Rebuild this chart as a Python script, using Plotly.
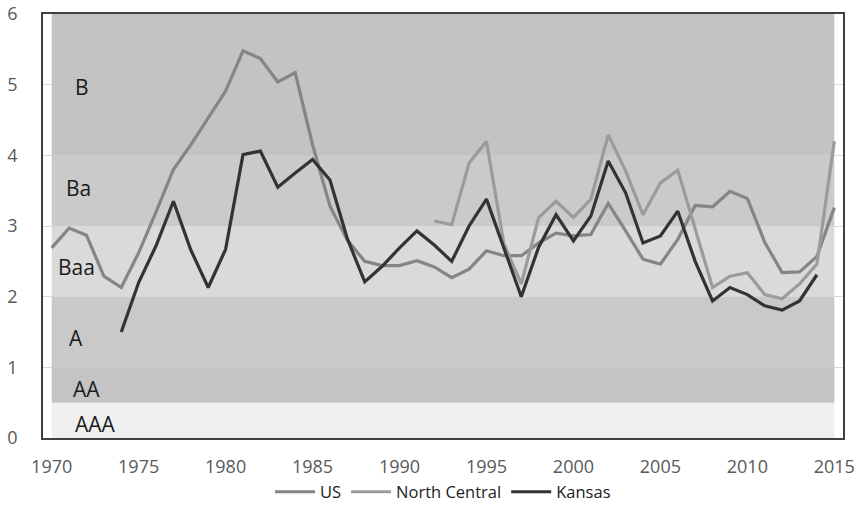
import plotly.graph_objects as go

years = list(range(1970, 2016))

us = [2.69, 2.97, 2.87, 2.29, 2.13, 2.62, 3.20, 3.80, 4.15, 4.53,
      4.91, 5.48, 5.37, 5.04, 5.17, 4.15, 3.28, 2.80, 2.50, 2.44,
      2.44, 2.51, 2.42, 2.27, 2.39, 2.65, 2.58, 2.58, 2.76, 2.90,
      2.86, 2.88, 3.32, 2.93, 2.53, 2.46, 2.81, 3.29, 3.27, 3.49,
      3.39, 2.77, 2.34, 2.35, 2.57, 3.26]

north_central = [None] * 22 + [
      3.07, 3.02, 3.89, 4.20, 2.75, 2.18, 3.12, 3.35,
      3.12, 3.38, 4.29, 3.78, 3.16, 3.61, 3.79, 2.95, 2.13, 2.29,
      2.34, 2.03, 1.97, 2.18, 2.46, 4.20]

kansas = [None] * 4 + [
      1.50, 2.20, 2.72, 3.35, 2.66, 2.13,
      2.67, 4.01, 4.06, 3.55, 3.75, 3.94, 3.65, 2.82, 2.21, 2.43,
      2.69, 2.93, 2.73, 2.50, 3.00, 3.38, 2.69, 2.00, 2.70, 3.16,
      2.79, 3.14, 3.92, 3.47, 2.76, 2.86, 3.21, 2.50, 1.94, 2.13,
      2.03, 1.87, 1.81, 1.94, 2.31, None]

band_edges = [0, 0.5, 1, 2, 3, 4, 6]
band_names = ["AAA", "AA", "A", "Baa", "Ba", "B"]
band_colors = ["#efefef", "#c4c4c4", "#c9c9c9", "#dadada", "#cacaca", "#c3c3c3"]
label_x = [1972.5, 1972.0, 1971.4, 1971.45, 1971.55, 1971.75]
label_y = [0.2, 0.69, 1.42, 2.42, 3.54, 4.96]

fig = go.Figure()

fig.add_trace(go.Scatter(x=years, y=us, name="US", mode="lines",
                         line=dict(color="#858585", width=3.2)))
fig.add_trace(go.Scatter(x=years, y=north_central, name="North Central", mode="lines",
                         line=dict(color="#9b9b9b", width=3.2)))
fig.add_trace(go.Scatter(x=years, y=kansas, name="Kansas", mode="lines",
                         line=dict(color="#333333", width=3.2)))

for i in range(len(band_names)):
    fig.add_shape(type="rect", xref="x", yref="y",
                  x0=years[0], x1=years[-1],
                  y0=band_edges[i], y1=band_edges[i + 1],
                  fillcolor=band_colors[i], line=dict(width=0),
                  layer="between")
    fig.add_annotation(x=label_x[i], y=label_y[i], text=band_names[i],
                       showarrow=False, xref="x", yref="y",
                       font=dict(family="Open Sans", size=21, color="#1a1a1a"))

fig.update_layout(
    width=861, height=513,
    margin=dict(l=43, r=18, t=14, b=75, autoexpand=False),
    paper_bgcolor="white", plot_bgcolor="white",
    font=dict(family="Open Sans", color="#595959"),
    showlegend=True,
    legend=dict(orientation="h", x=0.5, xanchor="center",
                yref="container", y=21 / 513, yanchor="middle",
                font=dict(family="Open Sans", size=16.5, color="#222222"),
                itemwidth=40, tracegroupgap=0),
)

fig.update_xaxes(range=[1969.5, 2015.5], tickvals=list(range(1970, 2016, 5)),
                 showgrid=False, zeroline=False, showline=True, mirror=True,
                 linecolor="#404040", linewidth=1.5, ticks="", automargin=False,
                 tickfont=dict(family="Open Sans", size=18, color="#595959"),
                 ticklabelstandoff=12)
fig.update_yaxes(range=[0, 6], tickvals=list(range(0, 7)),
                 showgrid=True, gridcolor="#d9d9d9", gridwidth=1, zeroline=False,
                 showline=True, mirror=True, linecolor="#404040", linewidth=1.5,
                 ticks="", automargin=False,
                 tickfont=dict(family="Open Sans", size=18, color="#595959"),
                 ticklabelstandoff=20)

fig.write_html("out.html", config={"displayModeBar": False},
               post_script="document.body.style.margin='0';")
